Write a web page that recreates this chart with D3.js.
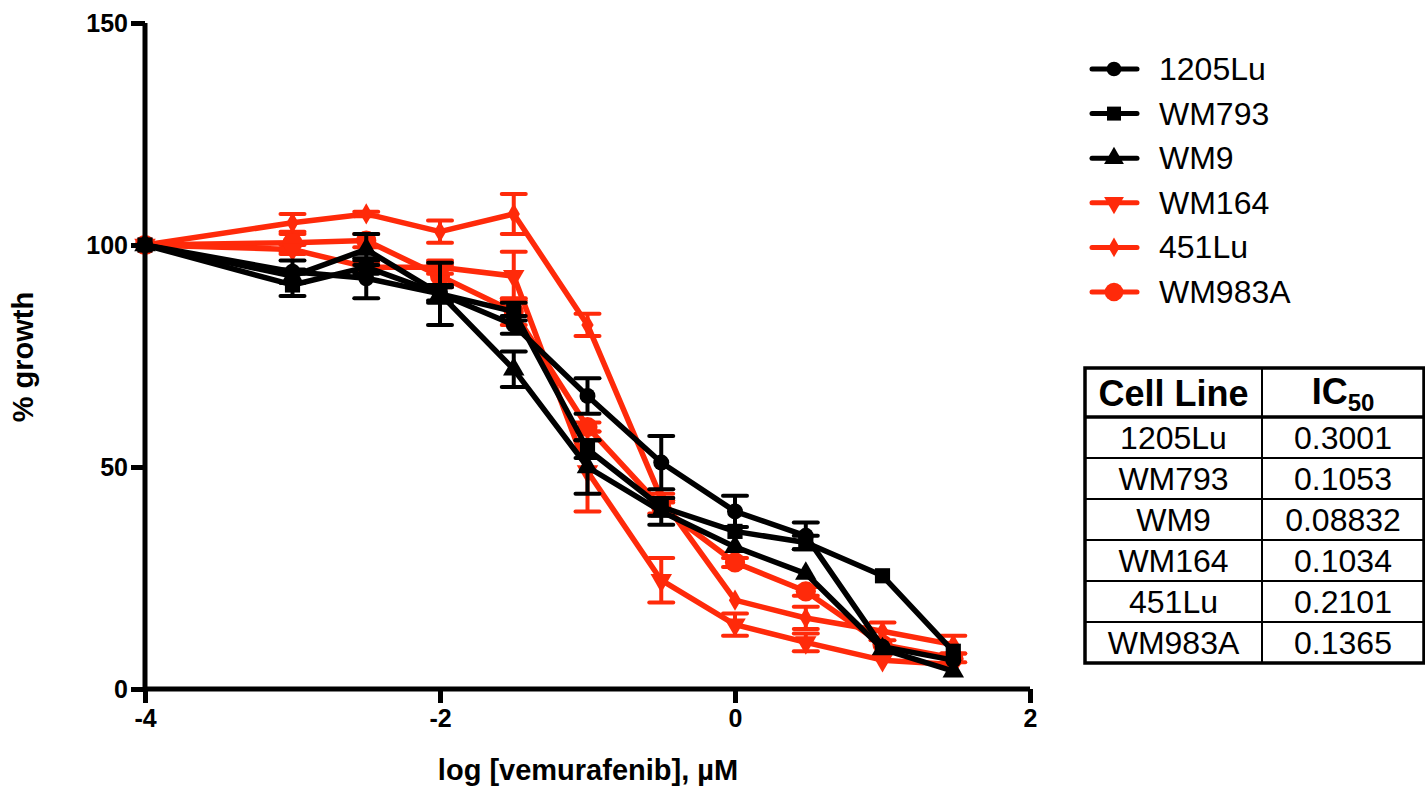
<!DOCTYPE html>
<html>
<head>
<meta charset="utf-8">
<script src="https://cdn.jsdelivr.net/npm/d3@7"></script>
<style>
  body { margin: 0; background: #fff; }
  text { font-family: "Liberation Sans", Arial, sans-serif; }
</style>
</head>
<body>
<svg id="chart" width="1425" height="787"></svg>
<script>
// Data
const doses = [-4, -3, -2.5, -2, -1.5, -1, -0.5, 0, 0.48, 1, 1.48];
const cellLines = ['1205Lu', 'WM793', 'WM9', 'WM164', '451Lu', 'WM983A'];
const ic50 = ['0.3001', '0.1053', '0.08832', '0.1034', '0.2101', '0.1365'];

const growth1205Lu = [100, 94, 92.5, 89, 82, 66, 51, 40, 34.5, 9.5, 6.5];
const err1205Lu    = [0, 2.5, 4.5, 2, 2, 4, 6, 3.5, 3, 0, 0];
const growthWM793  = [100, 91, 95, 89, 85, 54, 41, 35.5, 33, 25.5, 8.5];
const errWM793     = [0, 2.5, 1.5, 1.5, 2, 2, 2, 0, 1.5, 0, 0];
const growthWM9    = [100, 93, 99, 89, 72, 50, 40, 32, 26, 9, 4];
const errWM9       = [0, 1.5, 3.5, 7, 4, 6, 3, 0, 0, 0, 0];
const growthWM164  = [100, 99, 95, 95, 93, 49, 24.5, 14.5, 10.5, 6.5, 5.5];
const errWM164     = [0, 1, 1, 1.5, 5.5, 9, 5, 2.5, 2, 0, 0];
const growth451Lu  = [100, 105, 107, 103, 107, 82, 43, 20, 16, 13, 10];
const err451Lu     = [0, 2, 0.5, 2.5, 4.5, 2.5, 1, 0, 2.5, 2, 2];
const growthWM983A = [100, 100.5, 101, 93, 85, 59, 41, 28.5, 22, 10, 7];
const errWM983A    = [0, 2, 1.5, 2.5, 3, 1, 1.5, 1, 1, 0, 1];

const xTicks = [-4, -2, 0, 2];
const yTicks = [0, 50, 100, 150];

const red = '#ff2a0a';
const series = [
  { name: '1205Lu', values: growth1205Lu, err: err1205Lu, color: '#000', symbol: d3.symbolCircle, size: 200, rot: 0 },
  { name: 'WM793',  values: growthWM793,  err: errWM793,  color: '#000', symbol: d3.symbolSquare, size: 230, rot: 0 },
  { name: 'WM9',    values: growthWM9,    err: errWM9,    color: '#000', symbol: d3.symbolTriangle, size: 200, rot: 0 },
  { name: 'WM164',  values: growthWM164,  err: errWM164,  color: red, symbol: d3.symbolTriangle, size: 200, rot: 180 },
  { name: '451Lu',  values: growth451Lu,  err: err451Lu,  color: red, symbol: d3.symbolDiamond, size: 130, rot: 0 },
  { name: 'WM983A', values: growthWM983A, err: errWM983A, color: red, symbol: d3.symbolCircle, size: 320, rot: 0 }
];

const svg = d3.select('#chart');
const x = d3.scaleLinear().domain([-4, 2]).range([145, 1030]);
const y = d3.scaleLinear().domain([0, 150]).range([689, 23]);

// series (red drawn first, black on top)
const drawOrder = [5, 4, 3, 2, 1, 0];
const line = d3.line().x((d, i) => x(doses[i])).y(d => y(d));

drawOrder.forEach(k => {
  const s = series[k];
  const g = svg.append('g');
  // error bars
  s.values.forEach((v, i) => {
    const e = s.err[i];
    if (!e) return;
    const cx = x(doses[i]);
    g.append('line').attr('x1', cx).attr('x2', cx).attr('y1', y(v - e)).attr('y2', y(v + e))
      .attr('stroke', s.color).attr('stroke-width', 4);
    [v - e, v + e].forEach(t => {
      g.append('line').attr('x1', cx - 12).attr('x2', cx + 12).attr('y1', y(t)).attr('y2', y(t))
        .attr('stroke', s.color).attr('stroke-width', 4).attr('stroke-linecap', 'round');
    });
  });
  g.append('path').datum(s.values).attr('d', line)
    .attr('fill', 'none').attr('stroke', s.color).attr('stroke-width', 5.5).attr('stroke-linejoin', 'round');
  g.selectAll('path.m').data(s.values).enter().append('path').attr('class', 'm')
    .attr('d', d3.symbol().type(s.symbol).size(s.size))
    .attr('transform', (d, i) => `translate(${x(doses[i])},${y(d)}) rotate(${s.rot})`)
    .attr('fill', s.color);
});

// axes
const xAxis = svg.append('g').attr('transform', 'translate(0,689)')
  .call(d3.axisBottom(x).tickValues(xTicks).tickFormat(d3.format('d')).tickSize(14).tickPadding(6));
const yAxis = svg.append('g').attr('transform', 'translate(145,0)')
  .call(d3.axisLeft(y).tickValues(yTicks).tickSize(14).tickPadding(3));
[xAxis, yAxis].forEach(a => {
  a.select('.domain').attr('stroke-width', 5).attr('stroke', '#000');
  a.selectAll('.tick line').attr('stroke-width', 5).attr('stroke', '#000');
  a.selectAll('.tick text').attr('font-size', 25).attr('font-weight', 'bold')
    .attr('font-family', '"Liberation Sans", Arial, sans-serif').attr('fill', '#000');
});
xAxis.selectAll('.tick text').text(d => d < 0 ? '-' + Math.abs(d) : d);
yAxis.select('.domain').attr('d', 'M0,689V23');
xAxis.select('.domain').attr('d', 'M145,0H1030');
yAxis.selectAll('.tick text').attr('dy', '0.35em');

svg.append('text').attr('x', 588).attr('y', 780).attr('text-anchor', 'middle')
  .attr('font-size', 29).attr('font-weight', 'bold').text('log [vemurafenib], µM');
svg.append('text').attr('transform', 'translate(33,357) rotate(-90)').attr('text-anchor', 'middle')
  .attr('font-size', 29).attr('font-weight', 'bold').text('% growth');

// legend
const legend = svg.append('g');
series.forEach((s, i) => {
  const ly = 69 + i * 44.6;
  legend.append('line').attr('x1', 1092).attr('x2', 1137).attr('y1', ly).attr('y2', ly)
    .attr('stroke', s.color).attr('stroke-width', 5).attr('stroke-linecap', 'round');
  legend.append('path').attr('d', d3.symbol().type(s.symbol).size(s.size * 0.85))
    .attr('transform', `translate(1114,${ly}) rotate(${s.rot})`).attr('fill', s.color);
  legend.append('text').attr('x', 1159).attr('y', ly + 11).attr('font-size', 32).text(s.name);
});

// IC50 table
const tbl = svg.append('g');
const tLeft = 1085, tRight = 1424, tMid = 1262, tTop = 368, hBottom = 417, rowH = 41;
const tBottom = hBottom + rowH * cellLines.length;
tbl.append('rect').attr('x', tLeft).attr('y', tTop).attr('width', tRight - tLeft).attr('height', tBottom - tTop)
  .attr('fill', 'none').attr('stroke', '#000').attr('stroke-width', 3.5);
tbl.append('line').attr('x1', tMid).attr('x2', tMid).attr('y1', tTop).attr('y2', tBottom)
  .attr('stroke', '#000').attr('stroke-width', 2);
tbl.append('line').attr('x1', tLeft).attr('x2', tRight).attr('y1', hBottom).attr('y2', hBottom)
  .attr('stroke', '#000').attr('stroke-width', 3.5);
cellLines.forEach((c, i) => {
  const top = hBottom + i * rowH;
  if (i > 0) tbl.append('line').attr('x1', tLeft).attr('x2', tRight).attr('y1', top).attr('y2', top)
    .attr('stroke', '#000').attr('stroke-width', 2);
  tbl.append('text').attr('x', (tLeft + tMid) / 2).attr('y', top + 32).attr('text-anchor', 'middle')
    .attr('font-size', 32).text(c);
  tbl.append('text').attr('x', (tMid + tRight) / 2).attr('y', top + 32).attr('text-anchor', 'middle')
    .attr('font-size', 32).text(ic50[i]);
});
tbl.append('text').attr('x', (tLeft + tMid) / 2).attr('y', 406).attr('text-anchor', 'middle')
  .attr('font-size', 36).attr('font-weight', 'bold').text('Cell Line');
const ich = tbl.append('text').attr('x', 1343).attr('y', 404).attr('text-anchor', 'middle')
  .attr('font-size', 36).attr('font-weight', 'bold');
ich.append('tspan').text('IC');
ich.append('tspan').attr('font-size', 24).attr('dy', 7).text('50');
</script>
</body>
</html>
